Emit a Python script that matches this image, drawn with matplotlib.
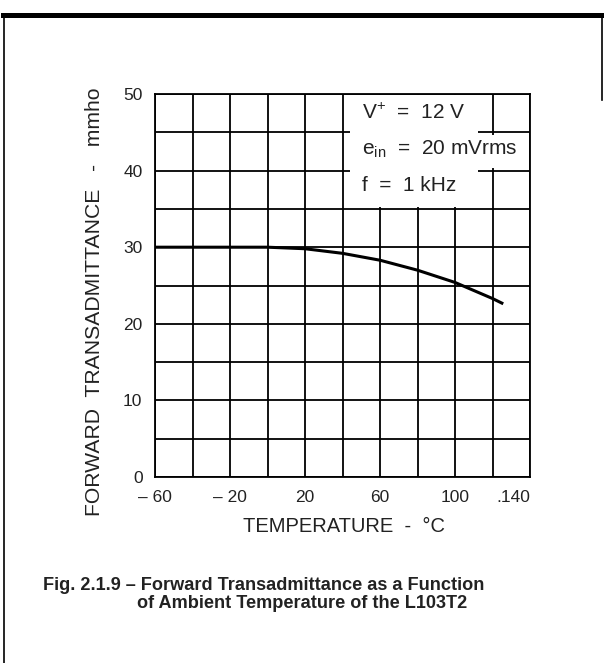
import matplotlib.pyplot as plt
from matplotlib.lines import Line2D
from matplotlib.patches import Rectangle

# curve
temp_c = [-60, -40, -20, 0, 20, 40, 60, 80, 100, 120, 125]
yfs_mmho = [30.0, 30.0, 30.0, 30.0, 29.8, 29.2, 28.3, 27.0, 25.4, 23.3, 22.7]

x_ticks = [-60, -20, 20, 60, 100, 140]
x_tick_labels = ["\u2013 60", "\u2013 20", "20", "60", "100", ".140"]
y_ticks = [0, 10, 20, 30, 40, 50]
x_grid = list(range(-60, 141, 20))
y_grid = list(range(0, 51, 5))

conditions = ["$\\mathregular{V^{+}}$  =  12 V",
              "$\\mathregular{e_{in}}$  =  20 mVrms",
              "f  =  1 kHz"]
caption = ["Fig. 2.1.9 \u2013 Forward Transadmittance as a Function",
           "of Ambient Temperature of the L103T2"]

plt.rcParams["font.family"] = ["Liberation Sans", "DejaVu Sans"]

fig = plt.figure(figsize=(6.04, 6.63), dpi=100)
W, H = 604, 663
ax = fig.add_axes([155 / W, 1 - 477 / H, 375 / W, 383 / H])

ax.set_xlim(-60, 140)
ax.set_ylim(0, 50)
ax.set_xticks(x_grid, minor=True)
ax.set_yticks(y_grid, minor=True)
ax.set_xticks(x_ticks)
ax.set_xticklabels(x_tick_labels)
ax.set_yticks(y_ticks)
ax.tick_params(which="both", length=0, labelsize=12.5, colors="#222222")
ax.tick_params(axis="x", pad=9)
ax.tick_params(axis="y", pad=9)
ax.get_xticklabels()[-1].set_horizontalalignment("right")
ax.grid(which="both", color="black", linewidth=1.3)
ax.set_axisbelow(True)
for s in ax.spines.values():
    s.set_linewidth(1.3)

# white patches behind the test conditions (as in the scan)
ax.add_patch(Rectangle((44, 35.3), 68, 14.6, facecolor="white", edgecolor="none", zorder=1))
ax.add_patch(Rectangle((112, 40.4), 27.6, 4.2, facecolor="white", edgecolor="none", zorder=1))
for i, t in enumerate(conditions):
    ax.text(50.5, 47.5 - i * 4.75, t, fontsize=15, va="center", ha="left",
            color="#222222", zorder=3)

ax.plot(temp_c, yfs_mmho, color="black", linewidth=2.2, zorder=4)

fig.text(95 / W, 1 - 302 / H, "FORWARD  TRANSADMITTANCE   -   mmho", rotation=90,
         ha="center", va="center", fontsize=15.2, color="#222222")
fig.text(344 / W, 1 - 527 / H, "TEMPERATURE  -  \u00b0C", ha="center", va="center",
         fontsize=14.5, color="#222222")

fig.text(43 / W, 1 - 585 / H, caption[0], ha="left", va="center", fontsize=13.1,
         fontweight="bold", color="#222222")
fig.text(137 / W, 1 - 603 / H, caption[1], ha="left", va="center", fontsize=13.1,
         fontweight="bold", color="#222222")

# page frame from the scanned sheet
fig.add_artist(Line2D([3 / W, 1], [1 - 15 / H, 1 - 15 / H], color="black", linewidth=3.6))
fig.add_artist(Line2D([4 / W, 4 / W], [0, 1 - 15 / H], color="black", linewidth=1.2))
fig.add_artist(Line2D([602 / W, 602 / W], [1 - 100 / H, 1 - 15 / H], color="black", linewidth=1.2))

fig.savefig("out.png", dpi=100)
